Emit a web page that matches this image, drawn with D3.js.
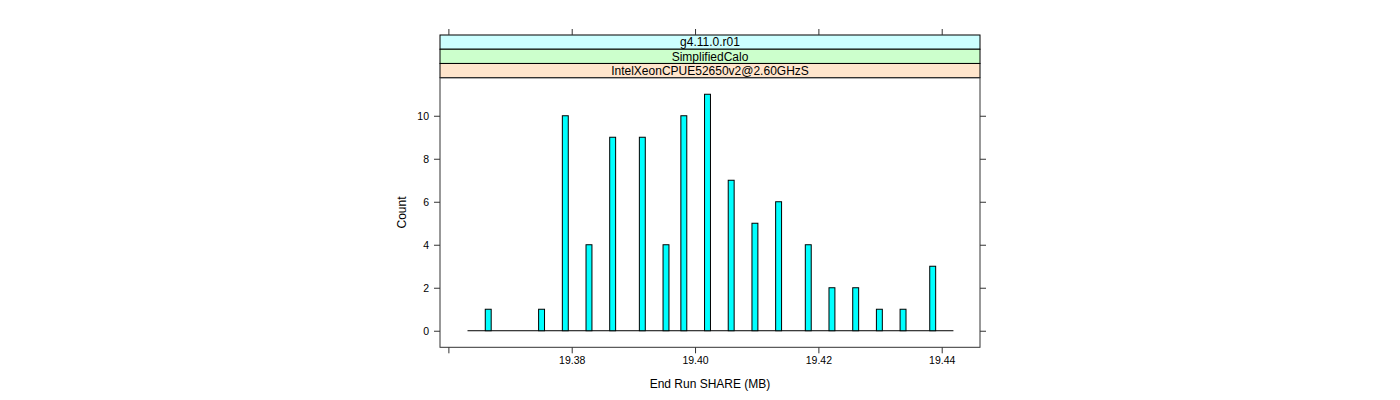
<!DOCTYPE html>
<html>
<head>
<meta charset="utf-8">
<script src="https://cdn.jsdelivr.net/npm/d3@7"></script>
<style>
  html, body { margin: 0; padding: 0; background: #fff; }
  svg { display: block; }
  text { font-family: "Liberation Sans", Arial, Helvetica, sans-serif; fill: #000; }
</style>
</head>
<body>
<svg id="chart" width="1400" height="400"></svg>
<script>
// ---- data ----
const stripLabels = ["g4.11.0.r01", "SimplifiedCalo", "IntelXeonCPUE52650v2@2.60GHzS"];
const stripColors = ["#CCFFFF", "#CCFFCC", "#FFE5CC"];
const binLefts = [19.36598, 19.37463, 19.37848, 19.38232, 19.38616, 19.39097, 19.39481, 19.39770,
                  19.40154, 19.40538, 19.40923, 19.41307, 19.41788, 19.42172, 19.42557, 19.42941,
                  19.43325, 19.43806];
const counts = [1, 1, 10, 4, 9, 9, 4, 10, 11, 7, 5, 6, 4, 2, 2, 1, 1, 3];
const binWidth = 0.000961;
const histRange = [19.3631, 19.4419];
const xTicks = [19.36, 19.38, 19.40, 19.42, 19.44];
const xTickLabels = ["", "19.38", "19.40", "19.42", "19.44"];
const yTicks = [0, 2, 4, 6, 8, 10];
const yTickLabels = ["0", "2", "4", "6", "8", "10"];
const xTitle = "End Run SHARE (MB)";
const yTitle = "Count";

// ---- layout ----
const panel = { left: 440, right: 980, top: 77.7, bottom: 347.3 };
const stripTop = 35;
const stripH = (panel.top - stripTop) / stripLabels.length;

const svg = d3.select("#chart");
svg.append("rect").attr("width", 1400).attr("height", 400).attr("fill", "#fff");

const x = d3.scaleLinear().domain([19.35864, 19.44621]).range([panel.left, panel.right]);
const y = d3.scaleLinear().domain([-0.77, 11.77]).range([panel.bottom, panel.top]);

// strips
stripLabels.forEach((lab, i) => {
  const y0 = stripTop + i * stripH;
  svg.append("rect")
    .attr("x", panel.left).attr("y", y0)
    .attr("width", panel.right - panel.left).attr("height", stripH)
    .attr("fill", stripColors[i]).attr("stroke", "#000").attr("stroke-width", 1);
  svg.append("text")
    .attr("x", (panel.left + panel.right) / 2).attr("y", y0 + stripH / 2 + 4.3)
    .attr("text-anchor", "middle").attr("font-size", "12px").text(lab);
});

// panel border
svg.append("rect")
  .attr("x", panel.left).attr("y", panel.top)
  .attr("width", panel.right - panel.left).attr("height", panel.bottom - panel.top)
  .attr("fill", "none").attr("stroke", "#333").attr("stroke-width", 1);

// baseline (zero-count bins)
svg.append("line")
  .attr("x1", x(histRange[0])).attr("x2", x(histRange[1]))
  .attr("y1", y(0)).attr("y2", y(0))
  .attr("stroke", "#000").attr("stroke-width", 1);

// bars
svg.append("g").selectAll("rect").data(binLefts).join("rect")
  .attr("x", d => x(d))
  .attr("width", d => x(d + binWidth) - x(d))
  .attr("y", (d, i) => y(counts[i]))
  .attr("height", (d, i) => y(0) - y(counts[i]))
  .attr("fill", "#00FFFF").attr("stroke", "#000").attr("stroke-width", 1);

// axes
const fmtX = (d, i) => xTickLabels[i];
const fmtY = (d, i) => yTickLabels[i];

const axB = svg.append("g").attr("transform", `translate(0,${panel.bottom})`)
  .call(d3.axisBottom(x).tickValues(xTicks).tickFormat(fmtX).tickSizeOuter(0).tickSize(6).tickPadding(3));
const axT = svg.append("g").attr("transform", `translate(0,${stripTop})`)
  .call(d3.axisTop(x).tickValues(xTicks).tickFormat(() => "").tickSizeOuter(0).tickSize(6));
const axL = svg.append("g").attr("transform", `translate(${panel.left},0)`)
  .call(d3.axisLeft(y).tickValues(yTicks).tickFormat(fmtY).tickSizeOuter(0).tickSize(6).tickPadding(5));
const axR = svg.append("g").attr("transform", `translate(${panel.right},0)`)
  .call(d3.axisRight(y).tickValues(yTicks).tickFormat(() => "").tickSizeOuter(0).tickSize(6));

[axB, axT, axL, axR].forEach(g => {
  g.select(".domain").remove();
  g.selectAll(".tick line").attr("stroke", "#333");
  g.selectAll(".tick text").attr("font-size", "10.5px").attr("fill", "#000")
    .style("font-family", '"Liberation Sans", Arial, sans-serif');
});
axL.selectAll(".tick text").attr("dy", "0.35em");

// titles
svg.append("text")
  .attr("x", (panel.left + panel.right) / 2).attr("y", 387.5)
  .attr("text-anchor", "middle").attr("font-size", "12px").text(xTitle);
svg.append("text")
  .attr("transform", `translate(406,${(panel.top + panel.bottom) / 2}) rotate(-90)`)
  .attr("text-anchor", "middle").attr("font-size", "12px").text(yTitle);
</script>
</body>
</html>
